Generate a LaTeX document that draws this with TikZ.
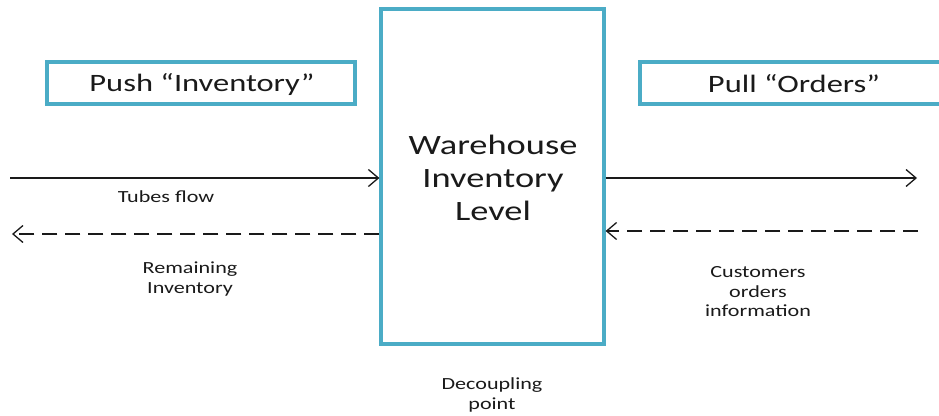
\documentclass[tikz,border=0pt]{standalone}
\usepackage{fontspec}
\setmainfont{Carlito}[FakeStretch=1.3]
\usetikzlibrary{arrows.meta}
\definecolor{boxteal}{HTML}{4BACC6}
\definecolor{ink}{HTML}{1A1A1A}
\tikzset{
  tealbox/.style={draw=boxteal, line width=3.2pt, fill=white, inner sep=0pt},
  flow/.style={draw=ink, line width=1.3pt, -{Straight Barb[length=10pt,width=17pt,line width=1.3pt]}},
  infoflow/.style={flow, dash pattern=on 15pt off 8pt},
  biglabel/.style={text=ink, font=\fontsize{25}{30}\selectfont},
  smalllabel/.style={text=ink, font=\fontsize{17}{19.5}\selectfont, align=center}
}
\begin{document}
\begin{tikzpicture}[x=1pt, y=-1pt]
  \clip (0,0) rectangle (939,415);
  \fill[white] (0,0) rectangle (939,415);

  % decoupling point: the warehouse
  \node[tealbox, minimum width=223pt, minimum height=335pt] (wh) at (492.5,176.5) {};
  \node[text=ink, font=\fontsize{28}{33}\selectfont, align=center] (whtext) at (493,178)
    {Warehouse\\Inventory\\Level};

  % push and pull headers
  \node[tealbox, minimum width=308pt, minimum height=42pt] (push) at (201,83) {};
  \node[biglabel] (pushtext) at (202,84) {Push “Inventory”};
  \node[tealbox, minimum width=312pt, minimum height=42pt] (pull) at (796,83) {};
  \node[biglabel] (pulltext) at (794,84) {Pull “Orders”};

  % free ends of the flows
  \coordinate (inL) at (10,178);
  \coordinate (remL) at (12,234);
  \coordinate (outR) at (917,178);
  \coordinate (ordR) at (918,231);

  \draw[flow] (inL) -- (wh.west |- inL);
  \draw[infoflow] (wh.west |- remL) -- (remL);
  \draw[flow] (wh.east |- outR) -- (outR);
  \draw[infoflow] (ordR) -- (wh.east |- ordR);

  % flow labels
  \node[smalllabel] (tubes) at (166,197) {Tubes flow};
  \node[smalllabel] (remain) at (190,279) {Remaining\\Inventory};
  \node[smalllabel] (cust) at (758,292) {Customers\\orders\\information};
  \node[smalllabel] (decoup) at (492,395) {Decoupling\\point};
\end{tikzpicture}
\end{document}
